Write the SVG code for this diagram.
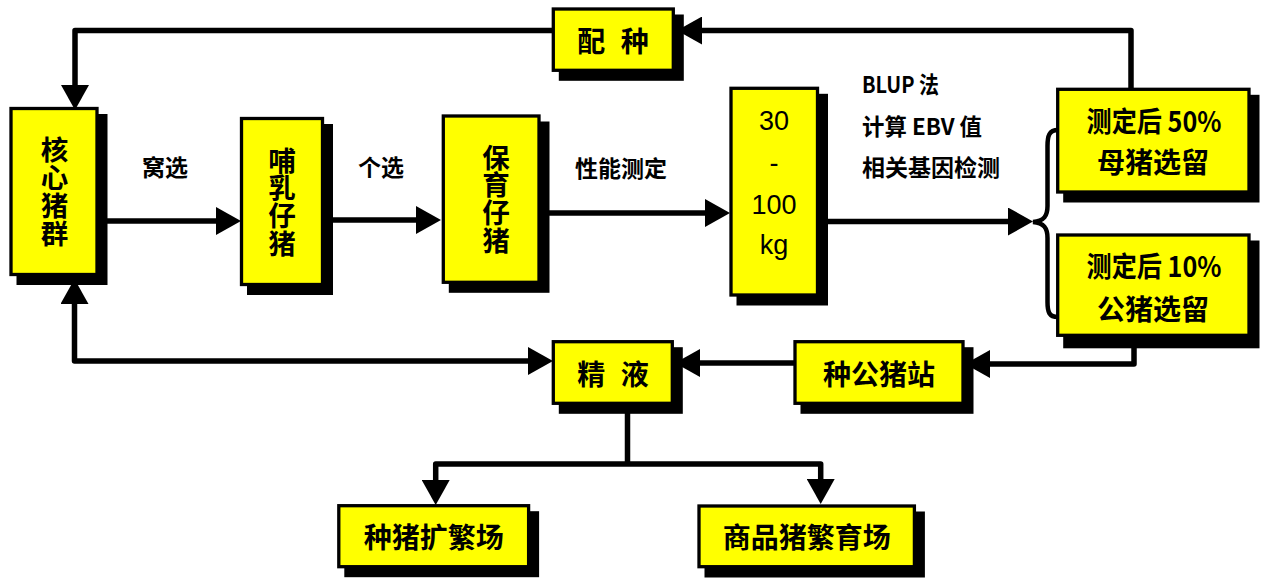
<svg xmlns="http://www.w3.org/2000/svg" width="1263" height="578" viewBox="0 0 1263 578">
<style>
.sh{fill:#000}
.bx{fill:#FFFF00;stroke:#000;stroke-width:3.3}
.t{font-family:"Noto Sans CJK SC","Noto Sans CJK TC",sans-serif;font-weight:700;fill:#000;text-anchor:middle}
.tb{font-size:28px}
.tv{font-size:27.5px;writing-mode:vertical-rl;letter-spacing:0.2px}
.tl{font-size:23px}
.num{font-family:"Liberation Sans",Arial,sans-serif;font-size:27px;fill:#000;text-anchor:middle}
.ln{stroke:#000;stroke-width:5.5;fill:none;stroke-linejoin:round}
.br{stroke:#000;stroke-width:4.5;fill:none}
</style>
<defs>
<marker id="ah" markerUnits="userSpaceOnUse" viewBox="0 0 25 28" refX="0" refY="14" markerWidth="25" markerHeight="28" orient="auto-start-reverse">
<path d="M0,0 L25,14 L0,28 z" fill="#000"/>
</marker>
</defs>
<rect width="1263" height="578" fill="#fff"/>

<g id="connectors">
<path class="ln" d="M1131,92 V30.5 H702" marker-end="url(#ah)"/>
<path class="ln" d="M560,30.5 H75 V85" marker-end="url(#ah)"/>
<path class="ln" d="M100,221 H216" marker-end="url(#ah)"/>
<path class="ln" d="M325,220 H416" marker-end="url(#ah)"/>
<path class="ln" d="M540,213 H705" marker-end="url(#ah)"/>
<path class="ln" d="M820,221.5 H1008" marker-end="url(#ah)"/>
<path class="br" d="M1058,130 C1049,130 1047.5,136 1047.5,146 L1047.5,206 C1047.5,216 1044,221 1033,222 C1044,223 1047.5,228 1047.5,238 L1047.5,302 C1047.5,312 1049,317 1058,317"/>
<path class="ln" d="M1134,340 V364 H990" marker-end="url(#ah)"/>
<path class="ln" d="M800,363 H700" marker-end="url(#ah)"/>
<path class="ln" d="M74.5,304 V361 H528" marker-start="url(#ah)" marker-end="url(#ah)"/>
<path class="ln" d="M627.5,405 V464"/>
<path class="ln" d="M435.7,480 V464 H820.7 V479" marker-start="url(#ah)" marker-end="url(#ah)"/>
</g>

<g id="n-hexin">
<rect class="sh" x="16.5" y="114" width="91" height="171"/>
<rect class="bx" x="11" y="108.5" width="86" height="166"/>
<text class="t tv" x="54.5" y="191.7">核心猪群</text>
</g>

<g id="n-buru">
<rect class="sh" x="247" y="124" width="86" height="171"/>
<rect class="bx" x="241.5" y="118.5" width="81" height="166"/>
<text class="t tv" x="282" y="202">哺乳仔猪</text>
</g>

<g id="n-baoyu">
<rect class="sh" x="448.8" y="121.5" width="100.7" height="171.3"/>
<rect class="bx" x="443.3" y="116" width="95.7" height="166.3"/>
<text class="t tv" x="496" y="199">保育仔猪</text>
</g>

<g id="n-weight">
<rect class="sh" x="736.5" y="93.8" width="91.5" height="211.7"/>
<rect class="bx" x="731" y="88.3" width="86.5" height="206.7"/>
<text class="num"><tspan x="774" y="130">30</tspan><tspan x="774" y="172">-</tspan><tspan x="774" y="214">100</tspan><tspan x="774" y="253.5">kg</tspan></text>
</g>

<g id="n-peizhong">
<rect class="sh" x="558.8" y="14.5" width="125" height="66.3"/>
<rect class="bx" x="553.3" y="9" width="120" height="61.3"/>
<text class="t tb" x="613" y="52" word-spacing="9">配 种</text>
</g>

<g id="n-blup">
<text class="t tl" x="862" y="92.5" style="text-anchor:start" textLength="77" lengthAdjust="spacingAndGlyphs">BLUP 法</text>
<text class="t tl" x="862" y="134.5" style="text-anchor:start" textLength="120" lengthAdjust="spacingAndGlyphs">计算 EBV 值</text>
<text class="t tl" x="862" y="175.5" style="text-anchor:start">相关基因检测</text>
</g>

<g id="n-labels">
<text class="t tl" x="165" y="175.5">窝选</text>
<text class="t tl" x="381" y="175.5">个选</text>
<text class="t tl" x="621" y="176.5">性能测定</text>
</g>

<g id="n-sow">
<rect class="sh" x="1063.2" y="94.8" width="196.3" height="107.7"/>
<rect class="bx" x="1057.7" y="89.3" width="191.3" height="102.7"/>
<text class="t tb" x="1154" y="131.5" textLength="135" lengthAdjust="spacingAndGlyphs">测定后 50%</text>
<text class="t tb" x="1153" y="173">母猪选留</text>
</g>

<g id="n-boar">
<rect class="sh" x="1063.2" y="240.5" width="196.3" height="107.8"/>
<rect class="bx" x="1057.7" y="235" width="191.3" height="100.3"/>
<text class="t tb" x="1154" y="276.5" textLength="135" lengthAdjust="spacingAndGlyphs">测定后 10%</text>
<text class="t tb" x="1153" y="320">公猪选留</text>
</g>

<g id="n-station">
<rect class="sh" x="800.5" y="347.2" width="173" height="66.6"/>
<rect class="bx" x="795" y="341.7" width="168" height="61.6"/>
<text class="t tb" x="879" y="385">种公猪站</text>
</g>

<g id="n-semen">
<rect class="sh" x="558.8" y="347.2" width="124" height="66.6"/>
<rect class="bx" x="553.3" y="341.7" width="119" height="61.6"/>
<text class="t tb" x="613" y="385" word-spacing="9">精 液</text>
</g>

<g id="n-kuofan">
<rect class="sh" x="344.3" y="511.2" width="194.8" height="66"/>
<rect class="bx" x="338.8" y="505.7" width="189.8" height="61"/>
<text class="t tb" x="433.7" y="548">种猪扩繁场</text>
</g>

<g id="n-shangpin">
<rect class="sh" x="704.5" y="511.5" width="220.4" height="66"/>
<rect class="bx" x="699" y="506" width="215.4" height="60.7"/>
<text class="t tb" x="806.7" y="548">商品猪繁育场</text>
</g>
</svg>
